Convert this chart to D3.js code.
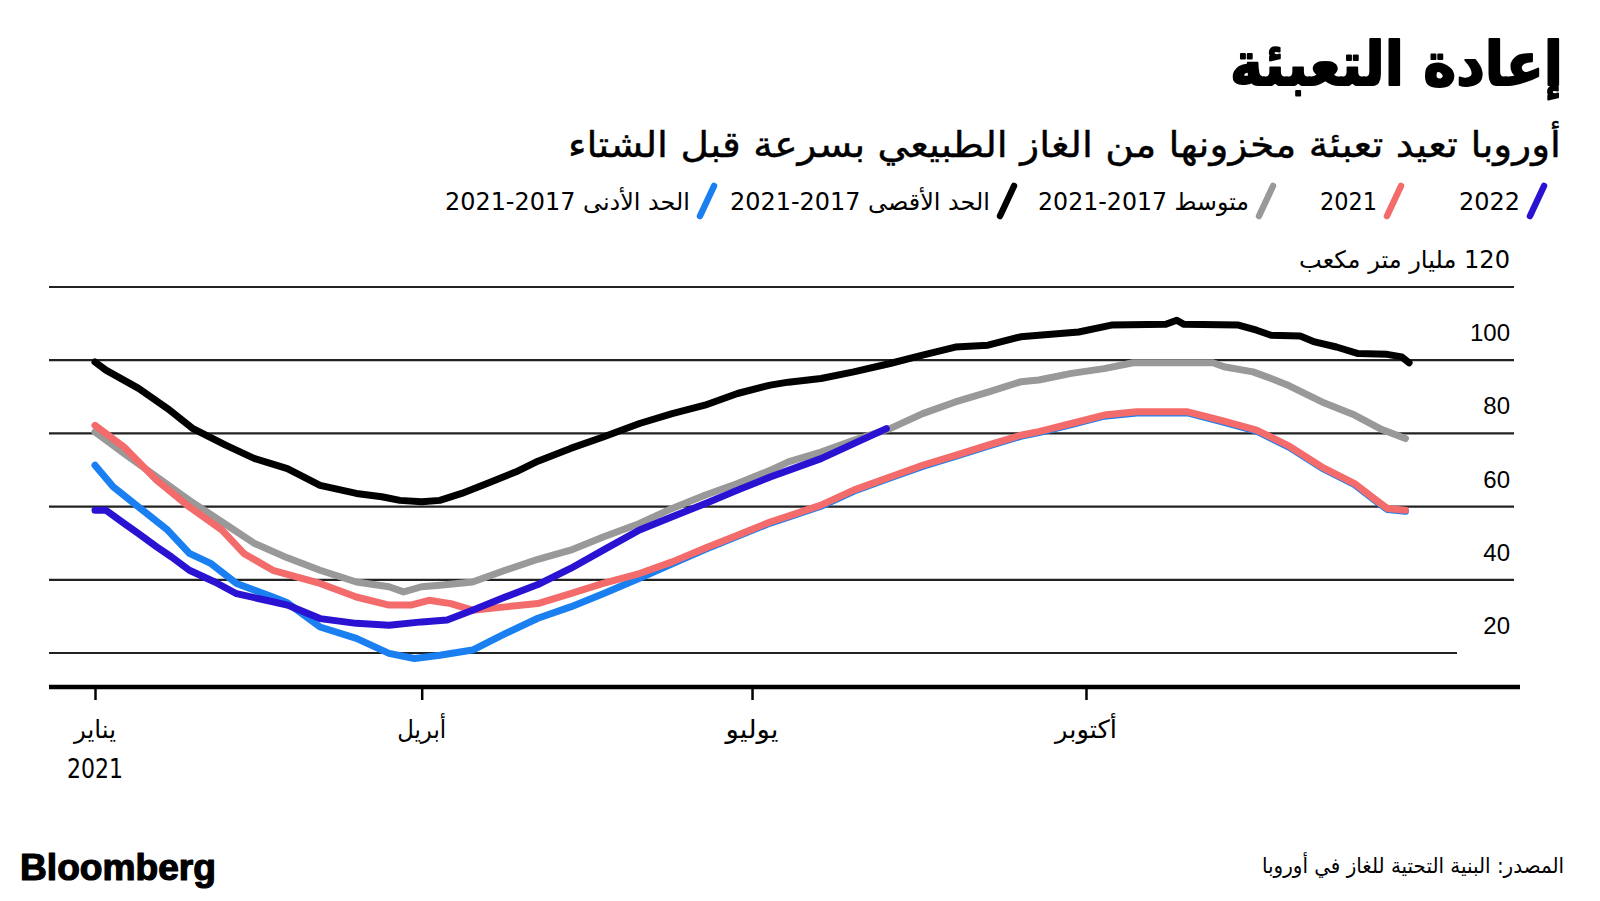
<!DOCTYPE html>
<html><head><meta charset="utf-8">
<script src="https://cdn.jsdelivr.net/npm/d3@7"></script>
<style>body{margin:0;background:#fff}svg{display:block}</style>
</head><body>
<svg id="chart" width="1600" height="901"></svg>
<script>
// ---------- DATA ----------
const titleText = "إعادة التعبئة";
const subtitleText = "أوروبا تعيد تعبئة مخزونها من الغاز الطبيعي بسرعة قبل الشتاء";
const unitText = "120 مليار متر مكعب";
const sourceText = "المصدر: البنية التحتية للغاز في أوروبا";
const brandText = "Bloomberg";

const legendLabels = ["2022", "2021", "متوسط 2017-2021", "الحد الأقصى 2017-2021", "الحد الأدنى 2017-2021"];
const legendColors = ["#2a12d2", "#f36b6b", "#999999", "#000000", "#1a7ff0"];

const yTickValues = [20, 40, 60, 80, 100];
const yGridValues = [20, 40, 60, 80, 100, 120];
const xTickDates = ["2021-01-01", "2021-04-01", "2021-07-01", "2021-10-01"];
const xTickLabels = ["يناير", "أبريل", "يوليو", "أكتوبر"];
const xYearLabel = "2021";

const max1721 = [
  ["2021-01-01",99.5],["2021-01-04",97.3],["2021-01-13",92.3],["2021-01-21",86.8],["2021-01-28",81.3],
  ["2021-02-06",76.8],["2021-02-14",73.1],["2021-02-23",70.4],["2021-03-04",65.8],["2021-03-14",63.6],
  ["2021-03-21",62.7],["2021-03-26",61.7],["2021-04-01",61.3],["2021-04-06",61.7],["2021-04-12",63.6],
  ["2021-04-19",66.3],["2021-04-27",69.5],["2021-05-03",72.4],["2021-05-12",75.9],["2021-05-21",79.0],
  ["2021-05-31",82.7],["2021-06-09",85.4],["2021-06-18",87.7],["2021-06-27",90.9],["2021-07-06",93.2],
  ["2021-07-11",94.0],["2021-07-20",95.0],["2021-07-29",96.8],["2021-08-08",99.1],["2021-08-17",101.4],
  ["2021-08-26",103.6],["2021-09-04",104.1],["2021-09-13",106.4],["2021-09-18",106.8],["2021-09-29",107.7],
  ["2021-10-08",109.6],["2021-10-23",109.8],["2021-10-26",110.9],["2021-10-28",109.8],["2021-11-12",109.6],
  ["2021-11-17",108.2],["2021-11-21",106.8],["2021-11-29",106.6],["2021-12-03",105.0],["2021-12-09",103.6],
  ["2021-12-15",101.8],["2021-12-23",101.6],["2021-12-27",100.9],["2021-12-29",99.3]
];
const avg1721 = [
  ["2021-01-01",80.4],["2021-01-09",74.5],["2021-01-18",68.1],["2021-01-27",61.7],["2021-02-05",55.8],
  ["2021-02-14",49.9],["2021-02-23",46.0],["2021-03-04",42.6],["2021-03-14",39.4],["2021-03-23",38.1],
  ["2021-03-27",36.7],["2021-04-01",38.1],["2021-04-06",38.5],["2021-04-15",39.4],["2021-04-24",42.6],
  ["2021-05-03",45.6],["2021-05-12",48.1],["2021-05-21",51.7],["2021-05-31",55.4],["2021-06-09",59.5],
  ["2021-06-18",63.1],["2021-06-27",66.3],["2021-07-06",69.9],["2021-07-11",72.2],["2021-07-20",74.9],
  ["2021-07-29",78.1],["2021-08-08",81.3],["2021-08-17",85.4],["2021-08-26",88.6],["2021-09-04",91.3],
  ["2021-09-13",94.1],["2021-09-18",94.6],["2021-09-27",96.4],["2021-10-06",97.7],["2021-10-14",99.3],
  ["2021-11-05",99.3],["2021-11-08",98.2],["2021-11-16",96.8],["2021-11-21",95.0],["2021-11-26",93.0],
  ["2021-12-05",88.6],["2021-12-14",85.0],["2021-12-21",81.3],["2021-12-28",78.6]
];
const y2021 = [
  ["2021-01-01",82.2],["2021-01-09",76.3],["2021-01-18",67.2],["2021-01-27",59.9],["2021-02-05",53.6],
  ["2021-02-11",47.2],["2021-02-19",42.6],["2021-02-23",41.5],["2021-03-04",39.0],["2021-03-14",35.3],
  ["2021-03-23",33.1],["2021-03-29",33.1],["2021-04-03",34.4],["2021-04-09",33.5],["2021-04-15",31.7],
  ["2021-04-24",32.6],["2021-05-03",33.5],["2021-05-12",36.2],["2021-05-21",39.0],["2021-05-31",41.7],
  ["2021-06-09",44.9],["2021-06-18",48.6],["2021-06-27",52.2],["2021-07-06",55.8],["2021-07-11",57.4],
  ["2021-07-20",60.4],["2021-07-29",64.5],["2021-08-08",68.1],["2021-08-17",71.3],["2021-08-26",74.0],
  ["2021-09-04",76.8],["2021-09-13",79.5],["2021-09-18",80.5],["2021-09-27",82.7],["2021-10-06",85.0],
  ["2021-10-15",85.9],["2021-10-25",85.9],["2021-10-29",85.9],["2021-11-07",83.6],["2021-11-17",80.9],
  ["2021-11-26",76.5],["2021-12-05",70.8],["2021-12-14",66.3],["2021-12-20",61.7],["2021-12-23",59.5],
  ["2021-12-28",59.0]
];
const min1721 = [
  ["2021-01-01",71.3],["2021-01-06",65.4],["2021-01-13",59.9],["2021-01-21",53.6],["2021-01-27",47.2],
  ["2021-02-02",44.4],["2021-02-09",39.0],["2021-02-19",35.3],["2021-02-23",33.7],["2021-03-04",27.1],
  ["2021-03-14",24.0],["2021-03-23",19.9],["2021-03-30",18.5],["2021-04-06",19.4],["2021-04-15",20.8],
  ["2021-04-24",25.3],["2021-05-03",29.5],["2021-05-12",32.6],["2021-05-21",36.2],["2021-05-31",40.4],
  ["2021-06-09",44.4],["2021-06-18",48.3],["2021-06-27",51.9],["2021-07-06",55.5],["2021-07-11",57.1],
  ["2021-07-20",60.1],["2021-07-29",64.2],["2021-08-08",67.8],["2021-08-17",71.0],["2021-08-26",73.7],
  ["2021-09-04",76.5],["2021-09-13",79.2],["2021-09-18",80.2],["2021-09-27",82.4],["2021-10-06",84.7],
  ["2021-10-15",85.6],["2021-10-25",85.6],["2021-10-29",85.6],["2021-11-07",83.3],["2021-11-17",80.6],
  ["2021-11-26",76.2],["2021-12-05",70.5],["2021-12-14",66.0],["2021-12-20",61.4],["2021-12-23",59.2],
  ["2021-12-28",58.7]
];
const y2022 = [
  ["2021-01-01",59.0],["2021-01-04",59.0],["2021-01-09",55.4],["2021-01-13",52.6],["2021-01-18",49.0],
  ["2021-01-22",46.3],["2021-01-27",42.6],["2021-02-03",39.4],["2021-02-09",36.2],["2021-02-19",34.0],
  ["2021-02-23",33.1],["2021-03-04",29.4],["2021-03-14",28.1],["2021-03-23",27.6],["2021-04-01",28.5],
  ["2021-04-08",29.0],["2021-04-15",31.7],["2021-04-24",35.3],["2021-05-03",38.7],["2021-05-12",43.1],
  ["2021-05-21",48.1],["2021-05-31",53.6],["2021-06-09",57.2],["2021-06-18",60.8],["2021-06-27",64.5],
  ["2021-07-06",68.1],["2021-07-11",69.9],["2021-07-20",73.1],["2021-07-29",77.2],["2021-08-07",81.3]
];

// ---------- LAYOUT ----------
const svg = d3.select("#chart");
const parse = d3.utcParse("%Y-%m-%d");
const x = d3.scaleUtc().domain([parse("2021-01-01"), parse("2022-01-01")]).range([95, 95 + 365 * 3.63]);
const y = d3.scaleLinear().domain([20, 120]).range([653, 287]);
const AR = "'DejaVu Sans', sans-serif";
const NUM = "'Liberation Sans', Arial, sans-serif";
const axisY = 687;

function txt(s, xx, yy, size, opts = {}) {
  const t = svg.append("text")
    .attr("x", xx).attr("y", yy)
    .attr("font-family", opts.family || AR)
    .attr("font-size", size)
    .attr("font-weight", opts.weight || "normal")
    .attr("fill", opts.fill || "#000")
    .attr("direction", opts.dir || "rtl")
    .attr("text-anchor", opts.anchor || "start")
    .text(s);
  if (opts.len) t.attr("textLength", opts.len).attr("lengthAdjust", "spacingAndGlyphs");
  if (opts.stroke) t.attr("stroke", "#000").attr("stroke-width", opts.stroke).attr("stroke-linejoin", "round");
  return t;
}

// Title & subtitle
txt(titleText, 1563, 85, 60, {weight: "bold", len: 333, stroke: 2});
txt(subtitleText, 1561, 157, 36, {len: 993, stroke: 0.4});

// Legend
const legendX = [1537, 1394, 1266, 1007, 707];
const lg = svg.append("g");
legendLabels.forEach((lab, i) => {
  const cx = legendX[i];
  lg.append("line").attr("x1", cx + 7).attr("y1", 186).attr("x2", cx - 7).attr("y2", 216)
    .attr("stroke", legendColors[i]).attr("stroke-width", 6.5).attr("stroke-linecap", "round");
});
const legendLen = [61, 57, 211, 260, 245];
legendLabels.forEach((lab, i) => {
  txt(lab, legendX[i] - 17, 210, 24, {len: legendLen[i]});
});

// Grid
svg.append("g").selectAll("line").data(yGridValues).join("line")
  .attr("x1", 49).attr("x2", d => d === 20 ? 1457 : 1514)
  .attr("y1", d => y(d)).attr("y2", d => y(d))
  .attr("stroke", "#222").attr("stroke-width", 2.2);

// y labels
svg.append("g").selectAll("text").data(yTickValues).join("text")
  .attr("x", 1510).attr("y", d => y(d) - 19)
  .attr("text-anchor", "end").attr("font-family", NUM).attr("font-size", 24)
  .text(d => d);
txt(unitText, 1510, y(120) - 19, 24, {len: 211});

// Lines
const line = d3.line().x(d => x(parse(d[0]))).y(d => y(d[1]));
const drawOrder = [[avg1721, "#999999"], [min1721, "#1a7ff0"], [y2021, "#f36b6b"], [y2022, "#2a12d2"], [max1721, "#000000"]];
svg.append("g").selectAll("path").data(drawOrder).join("path")
  .attr("d", d => line(d[0]))
  .attr("fill", "none").attr("stroke", d => d[1]).attr("stroke-width", 7)
  .attr("stroke-linejoin", "round").attr("stroke-linecap", "round");

// X axis
svg.append("line").attr("x1", 49).attr("x2", 1520).attr("y1", axisY).attr("y2", axisY)
  .attr("stroke", "#000").attr("stroke-width", 4.5);
const xAxis = d3.axisBottom(x).tickValues(xTickDates.map(parse)).tickSize(13).tickFormat("");
const ga = svg.append("g").attr("transform", `translate(0,${axisY})`).call(xAxis);
ga.select(".domain").remove();
ga.selectAll(".tick line").attr("stroke", "#000").attr("stroke-width", 2.5);
const xLabLen = [42, 49, 53, 62];
xTickLabels.forEach((lab, i) => {
  txt(lab, x(parse(xTickDates[i])), 738, 25, {anchor: "middle", len: xLabLen[i]});
});
txt(xYearLabel, x(parse(xTickDates[0])), 778, 26, {anchor: "middle", dir: "ltr", len: 56});

// Footer
txt(brandText, 20, 880, 36, {family: NUM, weight: "bold", dir: "ltr", len: 196, stroke: 1.2});
txt(sourceText, 1564, 873, 21, {len: 302});
</script>
</body></html>
